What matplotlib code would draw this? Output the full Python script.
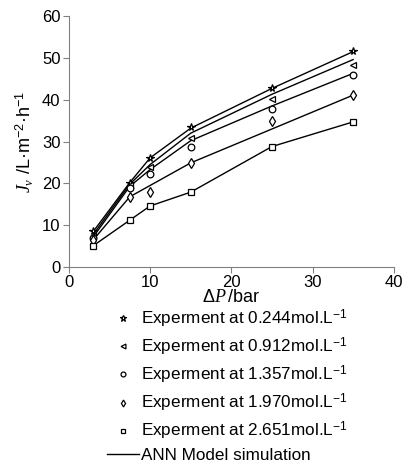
import numpy as np
import matplotlib
matplotlib.use('Agg')
import matplotlib.pyplot as plt
from matplotlib.lines import Line2D

plt.rcParams['font.family'] = ['Liberation Sans', 'DejaVu Sans']
plt.rcParams['mathtext.fontset'] = 'custom'
plt.rcParams['mathtext.rm'] = 'Liberation Sans'
plt.rcParams['mathtext.it'] = 'Liberation Serif:italic'

# 數據
dp = [3, 7.5, 10, 15, 25, 35]
labels = ["0.244", "0.912", "1.357", "1.970", "2.651"]
markers = ['*', '<', 'o', 'd', 's']

exp_0244 = [8.5, 20.2, 26.1, 33.4, 42.7, 51.7]
exp_0912 = [7.5, 19.5, 24.0, 30.8, 40.1, 48.2]
exp_1357 = [7.0, 19.0, 22.2, 28.8, 37.7, 45.9]
exp_1970 = [6.5, 16.8, 17.9, 24.9, 34.9, 41.1]
exp_2651 = [5.1, 11.2, 14.6, 17.9, 28.8, 34.7]

ann_0244 = [8.5, 20.2, 26.1, 33.2, 42.7, 51.5]
ann_0912 = [7.8, 19.8, 24.5, 32.0, 41.3, 49.6]
ann_1357 = [7.2, 19.3, 23.3, 30.2, 38.5, 46.3]
ann_1970 = [6.5, 16.8, 19.5, 24.9, 33.0, 41.1]
ann_2651 = [5.1, 11.2, 14.6, 17.9, 28.8, 34.7]

exp_all = [exp_0244, exp_0912, exp_1357, exp_1970, exp_2651]
ann_all = [ann_0244, ann_0912, ann_1357, ann_1970, ann_2651]

fig = plt.figure(figsize=(4.03, 4.73), dpi=100)
ax = fig.add_axes([0.171, 0.4355, 0.806, 0.5305])

for ann in ann_all:
    ax.plot(dp, ann, color='black', lw=1)
for e, m in zip(exp_all, markers):
    ax.plot(dp, e, linestyle='none', marker=m, ms=5.5 if m == '*' else 4.8,
            mfc='white', mec='black', mew=0.9)

ax.set_xlim(0, 40)
ax.set_ylim(0, 60)
ax.set_xticks(np.arange(0, 41, 10))
ax.set_yticks(np.arange(0, 61, 10))
for s in ['top', 'right']:
    ax.spines[s].set_visible(False)
for s in ['left', 'bottom']:
    ax.spines[s].set_color('#808080')
ax.tick_params(direction='out', length=4, color='#808080', labelsize=12, pad=2)

ax.set_xlabel(r"Δ$P\,$/bar", fontsize=13, labelpad=-1)
ax.set_ylabel("$J_v$ /L·m$^{-2}$·h$^{-1}$", fontsize=13, labelpad=4)

handles = []
for m in markers:
    handles.append(Line2D([], [], linestyle='none', marker=m, ms=3.5 if m != '*' else 4.5,
                          mfc='white', mec='black', mew=0.9))
handles.append(Line2D([], [], color='black', lw=1))
leg_labels = ["Experment at %smol.L$^{-1}$" % l for l in labels] + ["ANN Model simulation"]
fig.legend(handles, leg_labels, loc='upper left', bbox_to_anchor=(0.2655, 0.35),
           frameon=False, fontsize=12.3, labelspacing=0.35, handlelength=1.85,
           handletextpad=0.15, borderpad=0, borderaxespad=0)

fig.savefig('out.png', dpi=100)
